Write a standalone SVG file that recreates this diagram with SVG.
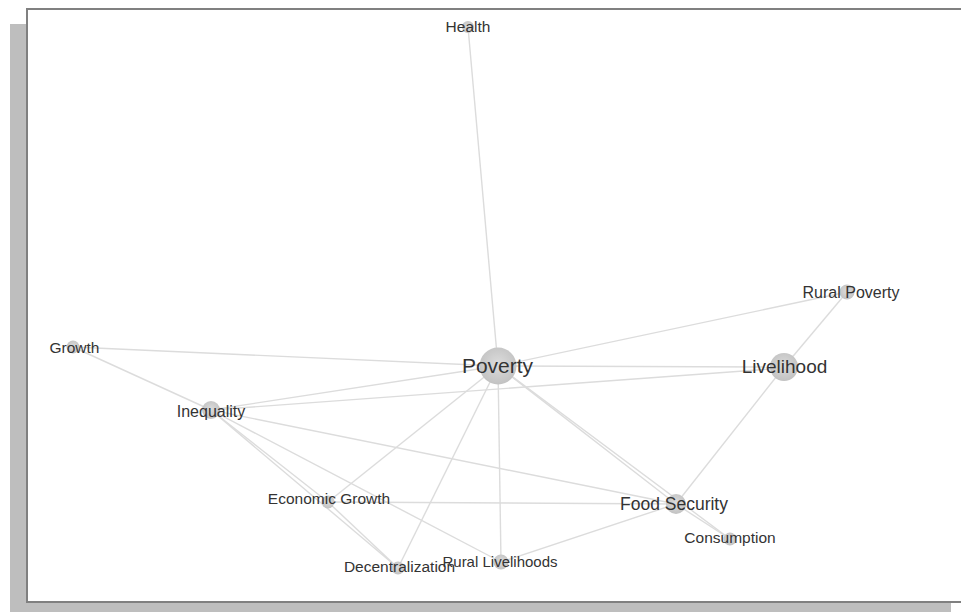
<svg xmlns="http://www.w3.org/2000/svg" width="961" height="612" viewBox="0 0 961 612">
<defs>
<radialGradient id="ng" cx="50%" cy="45%" r="55%">
<stop offset="0" stop-color="#dcdcdc"/>
<stop offset="1" stop-color="#c2c2c2"/>
</radialGradient>
<style>
.edge{stroke:#dcdcdc;stroke-width:1.4;fill:none}
.node{fill:url(#ng)}
.lbl{font-family:"Liberation Sans",Arial,sans-serif;fill:#333;text-anchor:middle}
</style>
</defs>
<rect x="10" y="24" width="941" height="588" fill="#bebebe"/>
<rect x="27" y="9" width="940" height="593" fill="#fff" stroke="#808080" stroke-width="2"/>
<g id="connectors">
<line class="edge" x1="468" y1="27" x2="498" y2="366"/>
<line class="edge" x1="73" y1="347" x2="498" y2="366"/>
<line class="edge" x1="73" y1="347" x2="211" y2="410"/>
<line class="edge" x1="498" y1="366" x2="847" y2="292"/>
<line class="edge" x1="498" y1="366" x2="784" y2="367"/>
<line class="edge" x1="211" y1="410" x2="498" y2="366"/>
<line class="edge" x1="211" y1="410" x2="784" y2="368"/>
<line class="edge" x1="784" y1="367" x2="847" y2="292"/>
<line class="edge" x1="784" y1="367" x2="676" y2="504"/>
<line class="edge" x1="498" y1="366" x2="676" y2="504"/>
<line class="edge" x1="498" y1="366" x2="730" y2="539"/>
<line class="edge" x1="498" y1="366" x2="328" y2="502"/>
<line class="edge" x1="498" y1="366" x2="398" y2="568"/>
<line class="edge" x1="498" y1="366" x2="501" y2="562"/>
<line class="edge" x1="211" y1="410" x2="676" y2="504"/>
<line class="edge" x1="211" y1="410" x2="501" y2="562"/>
<line class="edge" x1="211" y1="410" x2="328" y2="502"/>
<line class="edge" x1="211" y1="410" x2="398" y2="568"/>
<line class="edge" x1="328" y1="502" x2="398" y2="568"/>
<line class="edge" x1="328" y1="502" x2="676" y2="504"/>
<line class="edge" x1="501" y1="562" x2="676" y2="504"/>
<line class="edge" x1="676" y1="504" x2="730" y2="539"/>
</g>
<g id="n-health"><circle class="node" cx="468" cy="27" r="6"/><text class="lbl" x="468" y="32" font-size="15.5">Health</text></g>
<g id="n-growth"><circle class="node" cx="73" cy="347" r="6.5"/><text class="lbl" x="74.5" y="352.5" font-size="15.5">Growth</text></g>
<g id="n-inequality"><circle class="node" cx="211" cy="410" r="9"/><text class="lbl" x="211" y="416.5" font-size="16">Inequality</text></g>
<g id="n-ruralpoverty"><circle class="node" cx="847" cy="292" r="7.5"/><text class="lbl" x="851" y="298" font-size="16">Rural Poverty</text></g>
<g id="n-livelihood"><circle class="node" cx="784" cy="367" r="14"/><text class="lbl" x="784.5" y="372.5" font-size="19">Livelihood</text></g>
<g id="n-poverty"><circle class="node" cx="498" cy="366" r="18.5"/><text class="lbl" x="497.5" y="373" font-size="21">Poverty</text></g>
<g id="n-economicgrowth"><circle class="node" cx="328" cy="502" r="6.5"/><text class="lbl" x="329" y="504" font-size="15.5">Economic Growth</text></g>
<g id="n-decentralization"><circle class="node" cx="398" cy="568" r="6.5"/><text class="lbl" x="399.5" y="571.5" font-size="15.5">Decentralization</text></g>
<g id="n-rurallivelihoods"><circle class="node" cx="501" cy="562" r="7.5"/><text class="lbl" x="500" y="566.5" font-size="15">Rural Livelihoods</text></g>
<g id="n-foodsecurity"><circle class="node" cx="676" cy="504" r="10"/><text class="lbl" x="674" y="509.5" font-size="17.5">Food Security</text></g>
<g id="n-consumption"><circle class="node" cx="730" cy="539" r="6.5"/><text class="lbl" x="730" y="543" font-size="15.5">Consumption</text></g>
</svg>
